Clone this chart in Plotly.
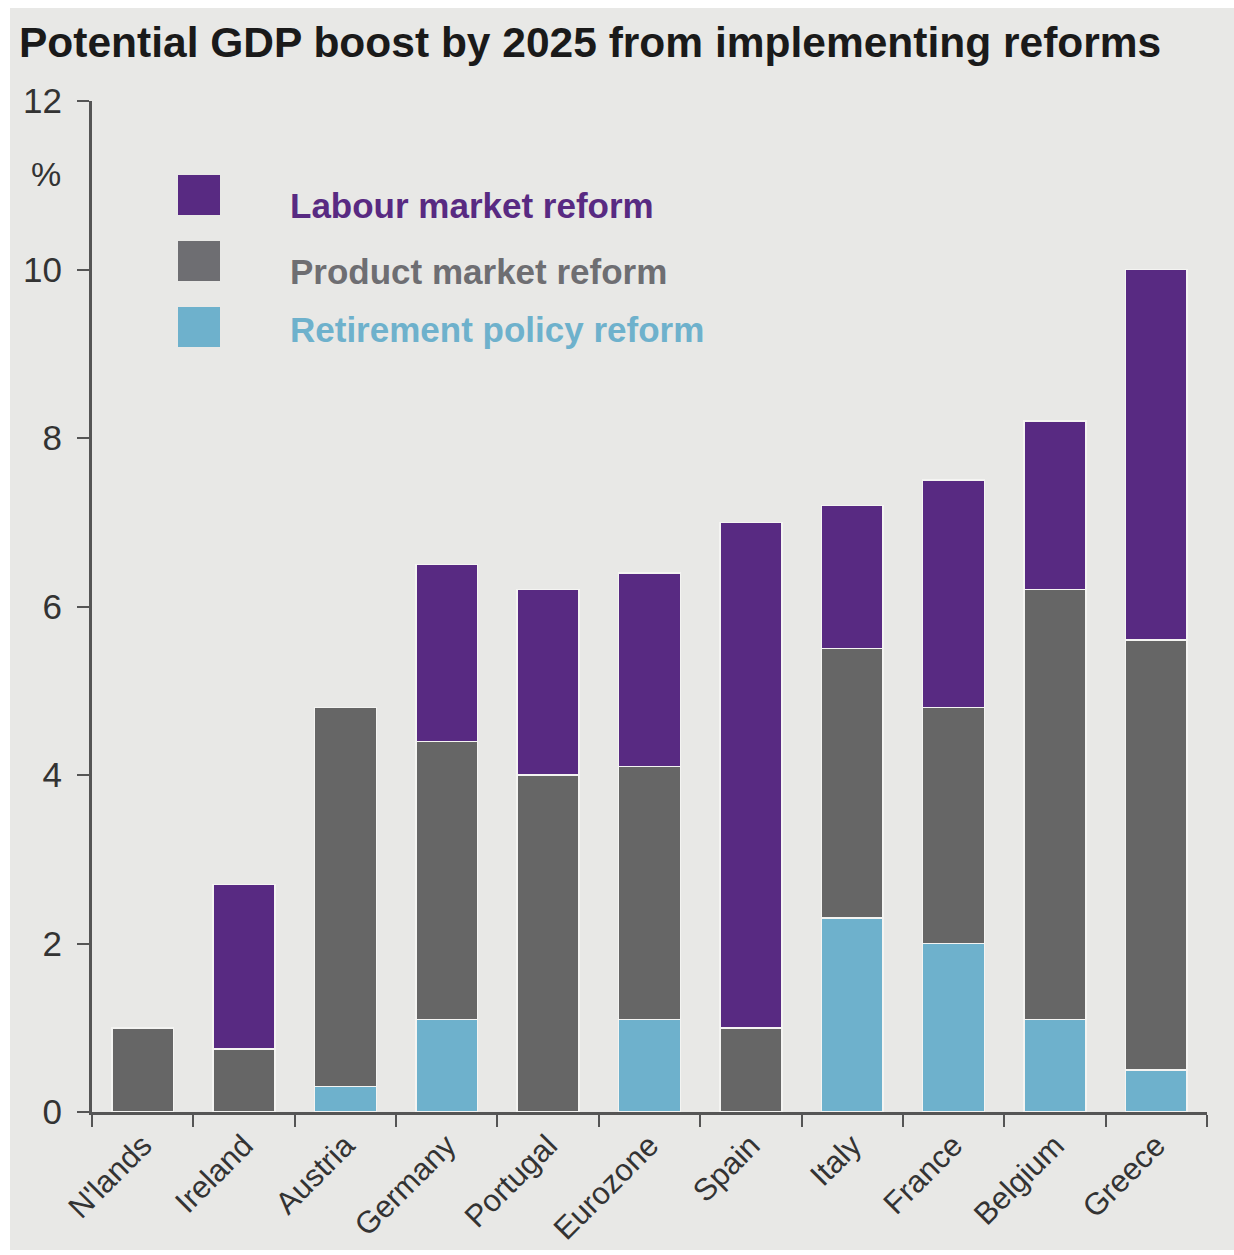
import plotly.graph_objects as go

categories = ["N'lands", "Ireland", "Austria", "Germany", "Portugal", "Eurozone",
              "Spain", "Italy", "France", "Belgium", "Greece"]
retirement = [0.0, 0.0, 0.3, 1.1, 0.0, 1.1, 0.0, 2.3, 2.0, 1.1, 0.5]
product = [1.0, 0.75, 4.5, 3.3, 4.0, 3.0, 1.0, 3.2, 2.8, 5.1, 5.1]
labour = [0.0, 1.95, 0.0, 2.1, 2.2, 2.3, 6.0, 1.7, 2.7, 2.0, 4.4]
y_ticks = [0, 2, 4, 6, 8, 10, 12]

series_names = ["Retirement policy reform", "Product market reform", "Labour market reform"]
series_colors = ["#6EB1CC", "#666666", "#582A82"]

fig = go.Figure()
for name, vals, col in zip(series_names, [retirement, product, labour], series_colors):
    fig.add_trace(go.Bar(
        x=categories, y=vals, name=name,
        marker=dict(color=col, line=dict(color="#F4F4F2", width=1.5)),
        showlegend=False,
    ))

L, R, T, B = 92, 27, 101, 143
W, H = 1234, 1255
pw, ph = W - L - R, H - T - B

def px_x(px):
    return (px - L) / pw

def px_y(py):
    return (H - B - py) / ph

FONT = "Liberation Sans, Arial, Helvetica"

shapes = [
    dict(type="rect", xref="paper", yref="paper", layer="below",
         x0=px_x(10), x1=px_x(1234), y0=px_y(1250), y1=px_y(8),
         fillcolor="#E8E8E6", line=dict(width=0)),
]
annotations = [
    dict(text="<b>Potential GDP boost by 2025 from implementing reforms</b>",
         xref="paper", yref="paper", x=px_x(17), y=px_y(43),
         xanchor="left", yanchor="middle", showarrow=False,
         font=dict(size=42.5, color="#1a1a1a", family=FONT)),
    dict(text="%", xref="paper", yref="paper", x=px_x(63), y=px_y(174),
         xanchor="right", yanchor="middle", showarrow=False,
         font=dict(size=34, color="#333333", family=FONT)),
]

legend_items = [("Labour market reform", "#582A82", 195, 205),
                ("Product market reform", "#6E6E72", 261, 272),
                ("Retirement policy reform", "#6EB1CC", 327, 329)]
for text, col, sq_cy, tx_cy in legend_items:
    shapes.append(dict(type="rect", xref="paper", yref="paper",
                       x0=px_x(178), x1=px_x(220), y0=px_y(sq_cy + 20), y1=px_y(sq_cy - 20),
                       fillcolor=col, line=dict(width=0)))
    annotations.append(dict(text="<b>" + text + "</b>", xref="paper", yref="paper",
                            x=px_x(288), y=px_y(tx_cy), xanchor="left", yanchor="middle",
                            showarrow=False,
                            font=dict(size=35, color=col, family=FONT)))

fig.update_layout(
    barmode="stack",
    bargap=0.39,
    width=W, height=H,
    margin=dict(l=L, r=R, t=T, b=B, pad=0, autoexpand=False),
    paper_bgcolor="white",
    plot_bgcolor="rgba(0,0,0,0)",
    shapes=shapes,
    annotations=annotations,
    font=dict(family=FONT, color="#333333"),
    xaxis=dict(
        type="category", range=[-0.5, 10.5], tickson="boundaries",
        ticks="outside", ticklen=12, tickwidth=2, tickcolor="#555555",
        showline=True, linecolor="#555555", linewidth=3,
        tickangle=-45, tickfont=dict(size=31, color="#333333"),
        ticklabelstandoff=0,
        showgrid=False, zeroline=False, automargin=False,
    ),
    yaxis=dict(
        range=[0, 12], tickvals=y_ticks, ticktext=[str(v) for v in y_ticks],
        ticks="outside", ticklen=12, tickwidth=2, tickcolor="#555555",
        showline=True, linecolor="#555555", linewidth=3,
        tickfont=dict(size=35, color="#333333"),
        ticklabelstandoff=8,
        showgrid=False, zeroline=False, automargin=False,
    ),
)

fig.write_html("out.html")
